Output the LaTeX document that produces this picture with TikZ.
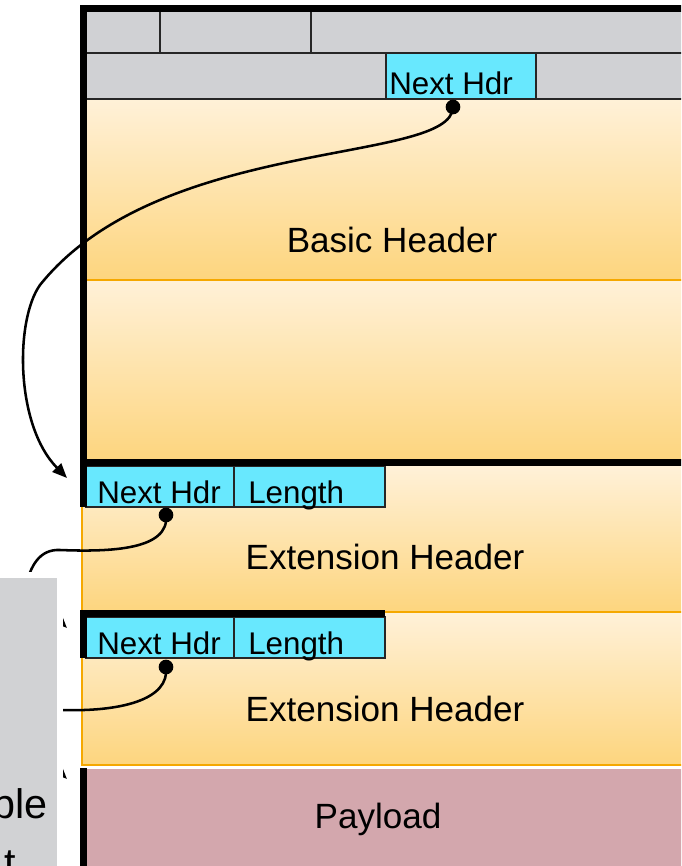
\documentclass[tikz,border=0pt]{standalone}
\usepackage{fontspec}
\setmainfont{Liberation Sans}
\usetikzlibrary{arrows.meta}
\definecolor{cellgray}{RGB}{208,209,212}
\definecolor{cellcyan}{RGB}{104,232,254}
\definecolor{hdrtop}{RGB}{255,241,216}
\definecolor{hdrbot}{RGB}{253,213,126}
\definecolor{hdrline}{RGB}{245,168,0}
\definecolor{payload}{RGB}{211,167,173}
\definecolor{notegray}{RGB}{209,210,212}

\begin{document}
\begin{tikzpicture}
  [x=0.75pt,y=-0.75pt,every node/.style={inner sep=0pt},
   big/.style={font=\fontsize{26.3}{31}\selectfont},
   small/.style={font=\fontsize{23.5}{28}\selectfont},
   note/.style={font=\fontsize{31}{36}\selectfont},
   cell/.style={draw=black!85,line width=1.1pt},
   hdr/.style={top color=hdrtop,bottom color=hdrbot},
   rim/.style={draw=hdrline,line width=1.6pt},
   edge/.style={line width=5.25pt},
   dot/.style={circle,fill=black,minimum size=11pt},
   link/.style={line width=1.9pt,-{Triangle[length=11pt,width=9pt]}}]
  \useasboundingbox (0,0) rectangle (681,866);
  \clip (0,0) rectangle (681,866);
  \fill[white] (0,0) rectangle (681,866);

  % basic header
  \fill[cellgray] (86,12) rectangle (690,99);
  \foreach \x in {160,311}
    \draw[cell] (\x,12) -- (\x,53);
  \draw[cell] (86,53) -- (690,53);
  \shade[hdr] (86,99) rectangle (690,280);
  \shade[hdr] (86,280) rectangle (690,460);
  \draw[rim] (86,280) -- (690,280);
  \draw[cell,fill=cellcyan] (386,53) rectangle (536,99);
  \draw[cell] (86,99) -- (690,99);

  % extension headers and payload
  \foreach \t/\b in {466/612,613/765} {
    \shade[hdr] (82,\t) rectangle (690,\b);
    \draw[rim] (82,\t) -- (82,\b) -- (690,\b);
  }
  \fill[payload] (83,769) rectangle (690,870);
  \foreach \t in {466,617} {
    \draw[cell,fill=cellcyan] (86,\t) rectangle (234,\t+41);
    \draw[cell,fill=cellcyan] (234,\t) rectangle (385,\t+41);
  }

  % thick outline
  \draw[edge] (690,8.5) -- (83.5,8.5) -- (83.5,507);
  \draw[edge] (80,462.5) -- (690,462.5);
  \draw[edge] (83.5,658) -- (83.5,613.5) -- (385,613.5);
  \draw[edge] (83.5,768) -- (83.5,870);

  % dots and links
  \node[dot] (d1) at (453,107) {};
  \node[dot] (d2) at (166,515) {};
  \node[dot] (d3) at (166,667) {};
  \coordinate (t1) at (67,478);
  \coordinate (t2) at (67,628);
  \coordinate (t3) at (67,779);
  \draw[link] (d1.center) .. controls (452,165) and (160,135) .. (40,285)
    .. controls (15,320) and (15,425) .. (t1);
  \draw[link] (d2.center) .. controls (170,550) and (110,552) .. (60,550)
    .. controls (40,549) and (30,565) .. (25,590)
    .. controls (22,605) and (45,606) .. (t2);
  \draw[link] (d3.center) .. controls (170,700) and (120,712) .. (60,710)
    .. controls (30,710) and (20,730) .. (25,745)
    .. controls (28,758) and (45,757) .. (t3);

  % note box in front
  \fill[white] (-5,572) rectangle (63,870);
  \fill[notegray] (-5,578) rectangle (57,870);
  \node[note,anchor=base east] (n1) at (48,818) {ble};
  \node[note,anchor=base west] (n2) at (4,877) {t};

  % labels
  \node[small,anchor=base west] (nh0) at (389,95) {Next Hdr};
  \node[big,anchor=base] (bh) at (392,252) {Basic Header};
  \foreach \t/\n in {466/1,617/2} {
    \node[small,anchor=base west] (nh\n) at (97,\t+37) {Next Hdr};
    \node[small,anchor=base west] (len\n) at (248,\t+37) {Length};
  }
  \node[big,anchor=base] (eh1) at (385,569) {Extension Header};
  \node[big,anchor=base] (eh2) at (385,721) {Extension Header};
  \node[big,anchor=base] (pl) at (378,828) {Payload};
\end{tikzpicture}
\end{document}
